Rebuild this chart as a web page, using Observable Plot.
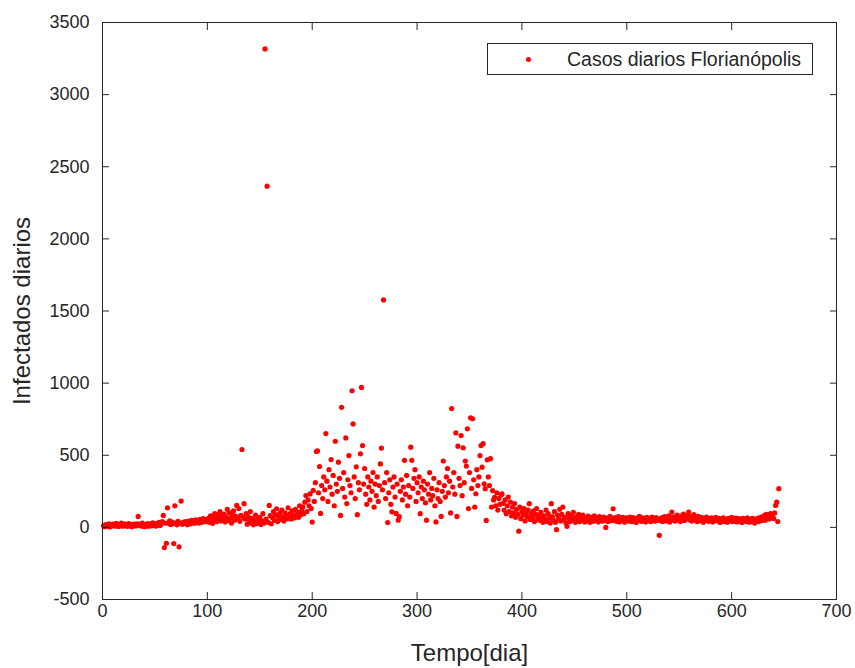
<!DOCTYPE html>
<html>
<head>
<meta charset="utf-8">
<script src="https://cdn.jsdelivr.net/npm/d3@7"></script>
<script src="https://cdn.jsdelivr.net/npm/@observablehq/plot@0.6"></script>
<style>
  body { margin: 0; background: #fff; }
  #wrap { position: relative; width: 855px; height: 668px; }
  #legend {
    position: absolute; left: 487px; top: 43px; width: 326px; height: 32px;
    box-sizing: border-box; border: 1px solid #262626; background: #fff;
    font-family: "Liberation Sans", Arial, sans-serif; font-size: 19.5px; color: #262626;
  }
  #legend .dot { position: absolute; left: 38px; top: 13px; width: 5px; height: 5px; border-radius: 50%; background: red; }
  #legend .txt { position: absolute; left: 79px; top: 4px; white-space: nowrap; }
</style>
</head>
<body>
<div id="wrap"></div>
<script>
// Daily cases, Florianópolis, by day ranges
const start1 = 1;
const cases1 = [12, 5, 20, 8, 15, 25, 3, 18, 10, 22, 14, 9, 28, 17, 6, 21, 12, 30, 8, 16, 24, 11, 19, 7, 26, 13, 20, 5, 15, 23,
  18, 10, 25, 76, 14, 22, 9, 30, 16, 5, 20, 12, 27, 8, 18, 24, 11, 32, 15, 21, 9, 28, 17, 35, 13, 25, 40, 83, -140, 30,
  -110, 135, 28, 45, 20, 38, 25, -112, 150, 32, 18, 42, -135, 30, 182, 22, 35, 27, 40, 31, 19, 44, 36, 25, 48, 33, 41, 29, 52, 38, 46, 30, 55, 42, 36, 60, 45, 51, 39, 58];
const start2 = 101;
const cases2 = [62, 35, 80, 55, 28, 75, 96, 52, 40, 85, 66, 110, 45, 78, 58, 92, 38, 70, 125, 48, 100, 64, 30, 88, 115, 50, 76, 152, 65, 130, 42, 84, 540, 70, 164, 58, 95, 22, 75, 45, 110, 30, 62, 18, 48, 85, 26, 55, 38, 70,
  20, 45, 95, 30, 3317, 58, 2365, 35, 152, 82, 25, 68, 110, 50, 88, 129, 40, 75, 98, 55, 120, 70, 45, 100, 85, 60, 135, 72, 95, 58, 115, 80, 65, 125, 90, 105, 70, 150, 88, 118, 140, 95, 175, 221, 110, 190, 150, 232, 130, 37];
const start3 = 201;
const cases3 = [256, 180, 310, 526, 530, 240, 422, 97, 290, 200, 350, 260, 650, 320, 180, 400, 280, 470, 230, 360, 150, 597, 300, 250, 452, 340, 83, 832, 270, 380, 210, 620, 165, 330, 498, 290, 240, 947, 717, 350, 200, 420, 88, 310, 260, 510, 970, 567, 300, 408, 230, 160, 350, 280, 190, 320, 250, 380, 140, 300,
  220, 350, 180, 290, 440, 550, 260, 1577, 310, 200, 380, 33, 240, 330, 160, 108, 280, 350, 210, 97, 300, 50, 74, 250, 330, 190, 280, 465, 230, 360, 150, 290, 210, 556, 465, 270, 340, 400, 180, 310];
const start4 = 301;
const cases4 = [240, 350, 95, 280, 200, 320, 260, 170, 50, 300, 230, 380, 190, 270, 220, 340, 150, 38, 260, 200, 310, 180, 76, 250, 460, 290, 210, 350, 408, 240, 320, 100, 824, 280, 380, 230, 655, 76, 563, 340,
  290, 637, 220, 552, 310, 460, 425, 683, 130, 380, 760, 270, 753, 330, 140, 233, 400, 290, 350, 498, 567, 417, 580, 302, 268, 48, 468, 350, 290, 476, 140, 255, 190, 209, 150, 240, 120, 200, 160, 225, 232, 167, 120, 190, 95, 150, 210, 110, 175, 80, 140, 100, 165, 70, 125, 90, -26, 140, 60, 110];
const start5 = 401;
const cases5 = [85, 130, 45, 100, 75, 120, 164, 55, 95, 70, 115, 40, 90, 130, 60, 85, 50, 105, 70, 35, 80, 55, 120, 40, 95, 65, 30, 164, 75, 50, 110, 35, -16, 85, 60, 125, 45, 90, 140, 55, 70, 30, 7, 95, 60, 40, 80, 50, 105, 65, 35, 75, 55, 90, 40, 70, 48, 85, 60, 38,
  62, 45, 78, 52, 35, 70, 58, 42, 80, 55, 48, 66, 38, 75, 52, 60, 44, 72, 50, 0, 64, 40, 58, 76, 46, 62, 129, 50, 68, 42, 56, 74, 38, 60, 48, 70, 54, 36, 66, 50];
const start6 = 501;
const cases6 = [62, 44, 72, 56, 40, 68, 52, 60, 34, 64, 48, 76, 55, 42, 66, 50, 58, 38, 70, 54, 46, 62, 40, 72, 52, 60, 44, 68, 50, 56, -55,
  48, 66, 40, 58, 74, 45, 62, 52, 80, 38, 68, 106, 50, 72, 44, 60, 85, 54, 66, 40, 78, 56, 92, 48, 70, 60, 84, 106, 52, 74, 44, 66, 88, 50, 62, 40, 76, 58, 46, 70, 54, 36, 64, 48, 72, 56, 42, 60, 50, 66, 38, 58, 46, 70, 52, 44, 62, 34, 56, 48, 66, 40, 58, 50, 36, 62, 44, 54, 70];
const start7 = 601;
const cases7 = [40, 58, 46, 64, 38, 52, 60, 42, 56, 34, 62, 48, 54, 40, 66, 50, 36, 58, 44, 62, 52, 30, 56, 46, 64, 40, 54, 72, 48, 60, 82, 50, 90, 66, 78, 58, 95, 70, 88, 62, 100, 152, 175, 40, 268];

const xTicks = [0, 100, 200, 300, 400, 500, 600, 700];
const yTicks = [-500, 0, 500, 1000, 1500, 2000, 2500, 3000, 3500];
const xLabel = "Tempo[dia]";
const yLabel = "Infectados diarios";
const seriesName = "Casos diarios Florianópolis";

const segments = [[start1, cases1], [start2, cases2], [start3, cases3], [start4, cases4], [start5, cases5], [start6, cases6], [start7, cases7]];
const data = segments.flatMap(([s, vals]) => vals.map((v, i) => ({day: s + i, cases: v})));

const axisColor = "#262626";
const font = "'Liberation Sans', Arial, sans-serif";
const fmt = d => String(d);

const chart = Plot.plot({
  width: 855,
  height: 668,
  marginLeft: 102,
  marginRight: 19,
  marginTop: 22,
  marginBottom: 69,
  style: {fontFamily: font, fontSize: "18px", color: axisColor, background: "#fff", overflow: "visible"},
  x: {domain: [0, 700], label: null},
  y: {domain: [-500, 3500], label: null},
  marks: [
    Plot.dot(data, {x: "day", y: "cases", r: 2.6, fill: "red", stroke: "none"}),
    Plot.frame({stroke: axisColor}),
    Plot.axisX(xTicks, {anchor: "bottom", tickSize: -7, tickPadding: 12, tickFormat: fmt, stroke: axisColor, fill: axisColor, label: null}),
    Plot.axisX(xTicks, {anchor: "top", tickSize: -7, tickFormat: () => "", stroke: axisColor, label: null}),
    Plot.axisY(yTicks, {anchor: "left", tickSize: -7, tickPadding: 20, tickFormat: fmt, stroke: axisColor, fill: axisColor, label: null}),
    Plot.axisY(yTicks, {anchor: "right", tickSize: -7, tickFormat: () => "", stroke: axisColor, label: null}),
    Plot.text([xLabel], {frameAnchor: "bottom", dy: 54, lineAnchor: "middle", textAnchor: "middle", fontSize: 24, fill: axisColor}),
    Plot.text([yLabel], {frameAnchor: "left", dx: -80, rotate: -90, textAnchor: "middle", lineAnchor: "middle", fontSize: 24, fill: axisColor})
  ]
});

const wrap = document.getElementById("wrap");
wrap.appendChild(chart);
const legend = document.createElement("div");
legend.id = "legend";
legend.innerHTML = `<span class="dot"></span><span class="txt">${seriesName}</span>`;
wrap.appendChild(legend);
</script>
</body>
</html>
